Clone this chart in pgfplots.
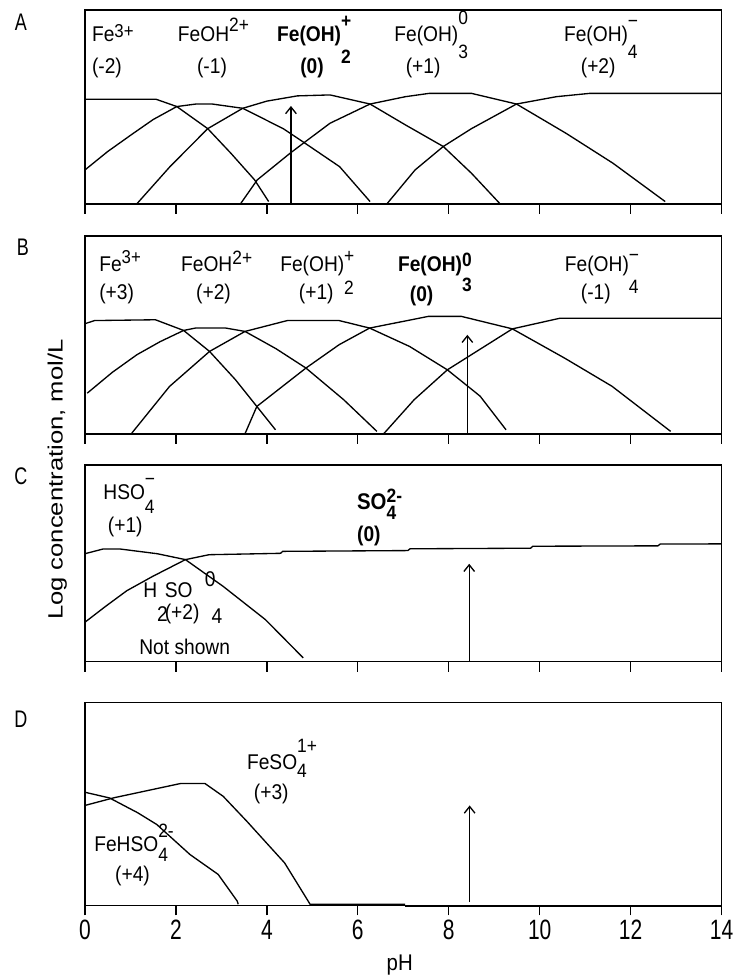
\documentclass[border=0pt]{standalone}
\usepackage{fontspec}
\setmainfont[FakeStretch=0.9]{Liberation Sans}
\newfontfamily\tickfont[FakeStretch=0.75]{Liberation Sans}
\newfontfamily\yfont{Liberation Sans}
\usepackage{graphicx}
\usepackage{pgfplots}
\pgfplotsset{compat=1.18}
\usetikzlibrary{arrows.meta}

\newcommand{\lab}{\fontsize{16}{18}\selectfont}
\newcommand{\sm}{\fontsize{14.5}{16}\selectfont}
% raise, sup, lower, sub
\newcommand{\SupSub}[4]{\rlap{\raisebox{#1}{\sm #2}}\raisebox{-#3}{\sm #4}}

\pgfplotsset{
  panel/.style={scale only axis, width=477.75pt, xmin=0, xmax=14, ymin=0, ymax=100,
    xtick={0,2,4,6,8,10,12,14}, ytick=\empty, xticklabels={},
    tick align=outside, xtick pos=bottom, major tick length=7.5pt,
    axis line style={line width=1.2pt}, xtick style={line width=1pt, black},
    clip=false, anchor=north west},
  cv/.style={black, line width=1pt, mark=none},
  ar/.style={black, line width=1pt, mark=none, -{Straight Barb[length=5pt,width=8pt]}},
}
\tikzset{lb/.style={anchor=base west, inner sep=0pt, font=\lab}}

\begin{document}
\begin{tikzpicture}
\path (0,0) rectangle (554.25pt,-735pt);

% ---------------- A ----------------
\begin{axis}[panel, height=145.5pt, at={(63.75pt,-7.5pt)}]
\addplot[cv] coordinates {(0,54) (1.56,54) (2.02,50.2) (2.7,38.8) (3.21,26.1) (3.73,12.4) (4.04,1.2)};
\addplot[cv] coordinates {(0,17.5) (0.5,27) (1.04,36) (1.5,43.5) (2.02,50.2) (2.44,51.5) (2.8,51.5) (3.47,49.3) (4.36,38.8) (4.82,31.6) (5.6,19.2) (6.27,1.2)};
\addplot[cv] coordinates {(1.14,0) (1.87,19.2) (2.7,38.8) (3.47,49.3) (4.0,53) (4.67,55.7) (5.39,56.2) (6.27,51.5) (7.05,40.7) (7.88,29.6) (8.5,15.8) (9.13,0)};
\addplot[cv] coordinates {(3.42,0) (3.79,12.4) (4.51,26.1) (4.82,31.6) (5.39,41.6) (6.27,51.5) (7.05,55.3) (7.57,57) (8.5,57) (9.49,51.5) (10.58,36.4) (11.61,21) (12.76,1.2)};
\addplot[cv] coordinates {(6.64,0) (7.26,17.5) (7.88,29.6) (8.5,38.8) (9.49,51.5) (10.37,55.3) (11.1,57) (14,57)};
\addplot[ar] coordinates {(4.53,0) (4.53,50.5)};
\node[lb] at (axis cs:0.15,83.5) {Fe\raisebox{3pt}{\fontsize{14}{14}\selectfont 3+}};
\node[lb] at (axis cs:0.15,67.5) {(-2)};
\node[lb] at (axis cs:2.04,83.5) {FeOH\raisebox{7.5pt}{\sm 2+}};
\node[lb] at (axis cs:2.46,67.5) {(-1)};
\node[lb] at (axis cs:4.22,83.5) {\bfseries Fe(OH)\SupSub{11pt}{+}{16pt}{2}};
\node[lb] at (axis cs:4.73,67.5) {\bfseries (0)};
\node[lb] at (axis cs:6.8,83.5) {Fe(OH)\SupSub{13pt}{0}{12.75pt}{3}};
\node[lb] at (axis cs:7.05,67.5) {(+1)};
\node[lb] at (axis cs:10.53,83.5) {Fe(OH)\SupSub{10.5pt}{\textminus}{12.75pt}{4}};
\node[lb] at (axis cs:10.9,67.5) {(+2)};
\end{axis}

% ---------------- B ----------------
\begin{axis}[panel, height=148.5pt, at={(63.75pt,-177pt)}]
\addplot[cv] coordinates {(0,55.6) (0.21,57.2) (1.55,57.6) (2.17,52.2) (2.74,41.6) (3.31,27.3) (3.78,13.8) (4.19,2)};
\addplot[cv] coordinates {(0.05,20.5) (0.6,31) (1.14,39.9) (1.65,46.5) (2.17,52.2) (2.43,53.4) (3.1,53.4) (3.52,51.7) (4.2,43) (4.86,33.2) (5.69,17.2) (6.42,1.2)};
\addplot[cv] coordinates {(1.03,0.3) (1.86,23.9) (2.74,41.6) (3.52,51.7) (4.45,57.2) (5.59,57.2) (6.26,53.4) (7.14,44.1) (7.97,32.3) (8.69,19) (9.26,2)};
\addplot[cv] coordinates {(3.52,0) (3.78,13.8) (4.86,33.2) (5.59,45) (6.26,53.4) (7.55,59.3) (8.28,59.3) (9.4,53) (10.55,38.2) (11.59,24) (12.88,1.2)};
\addplot[cv] coordinates {(6.57,0) (7.24,17.2) (7.97,32.3) (9.4,53) (10.45,58.4) (14,58.4)};
\addplot[ar] coordinates {(8.41,0) (8.41,50)};
\node[lb] at (axis cs:0.31,81.8) {Fe\raisebox{6pt}{\fontsize{14}{14}\selectfont 3+}};
\node[lb] at (axis cs:0.31,67.7) {(+3)};
\node[lb] at (axis cs:2.11,81.8) {FeOH\raisebox{5.5pt}{\sm 2+}};
\node[lb] at (axis cs:2.44,67.7) {(+2)};
\node[lb] at (axis cs:4.29,81.8) {Fe(OH)\SupSub{7pt}{+}{17pt}{2}};
\node[lb] at (axis cs:4.7,67.7) {(+1)};
\node[lb] at (axis cs:6.88,81.8) {\bfseries Fe(OH)\SupSub{4pt}{0}{15pt}{3}};
\node[lb] at (axis cs:7.14,66.7) {\bfseries (0)};
\node[lb] at (axis cs:10.55,81.8) {Fe(OH)\SupSub{7.5pt}{\textminus}{16pt}{4}};
\node[lb] at (axis cs:10.9,67.7) {(-1)};
\end{axis}

% ---------------- C ----------------
\begin{axis}[panel, height=147.75pt, at={(63.75pt,-348.75pt)}]
\addplot[cv] coordinates {(0,54.8) (0.4,57.2) (0.77,57.2) (1.59,54.8) (2.21,51.8) (3.04,38.2) (3.97,21.3) (4.8,1.9)};
\addplot[cv] coordinates {(0,20) (0.45,28) (0.92,36) (1.49,43.3) (2.21,51.8) (2.73,54.3) (4.3,55) (4.35,56) (7.1,56.4) (7.15,57.3) (9.8,57.6) (9.85,58.6) (12.6,58.8) (12.65,59.7) (14,59.8)};
\addplot[ar] coordinates {(8.45,0) (8.45,49.7)};
\node[lb] at (axis cs:0.4,82.2) {HSO\SupSub{10.5pt}{\textminus}{10pt}{4}};
\node[lb] at (axis cs:0.5,65.5) {(+1)};
\node[lb] at (axis cs:5.98,77.5) {\fontsize{17}{18}\selectfont\bfseries SO\SupSub{5pt}{\bfseries 2-}{8pt}{\bfseries 4}};
\node[lb] at (axis cs:5.98,61) {\bfseries (0)};
\node[lb] at (axis cs:1.28,32.5) {H};
\node[lb] at (axis cs:1.75,32.5) {SO};
\node[lb] at (axis cs:2.63,38) {0};
\node[lb] at (axis cs:1.58,20.5) {2};
\node[lb] at (axis cs:1.75,21.5) {(+2)};
\node[lb] at (axis cs:2.78,19.5) {4};
\node[lb] at (axis cs:1.19,3.6) {Not shown};
\end{axis}

% ---------------- D ----------------
\begin{axis}[panel, height=152.25pt, at={(63.75pt,-527.25pt)},
  xticklabels={0,2,4,6,8,10,12,14},
  xticklabel style={font=\tickfont\fontsize{21}{21}\selectfont},
  /pgf/number format/assume math mode=true]
\addplot[cv] coordinates {(0,49.3) (0.64,53.1) (2.1,60.1) (2.64,60.1) (3.04,53.8) (3.56,41.5) (4.39,21) (4.91,2.1) (4.95,0.6) (7.04,0.6)};
\addplot[cv] coordinates {(7.04,-0.6) (14,-0.6)};
\addplot[cv] coordinates {(0,55.8) (0.54,53) (1.16,45.7) (1.58,39.9) (2.31,25.1) (2.93,15.3) (3.35,2.1) (3.37,0.6)};
\addplot[ar] coordinates {(8.46,1.6) (8.46,49.3)};
\node[lb] at (axis cs:3.56,67) {FeSO\SupSub{12.5pt}{1+}{6pt}{4}};
\node[lb] at (axis cs:3.71,52.2) {(+3)};
\node[lb] at (axis cs:0.2,26.6) {FeHSO\SupSub{10.5pt}{2-}{7.5pt}{4}};
\node[lb] at (axis cs:0.66,11.8) {(+4)};
\end{axis}

% outer labels
\node[font=\tickfont\fontsize{18}{18}\selectfont] at (15.75pt,-16.5pt) {A};
\node[font=\tickfont\fontsize{18}{18}\selectfont] at (17.25pt,-185.25pt) {B};
\node[font=\tickfont\fontsize{18}{18}\selectfont] at (15.75pt,-357.75pt) {C};
\node[font=\tickfont\fontsize{18}{18}\selectfont] at (15.75pt,-540pt) {D};
\node[rotate=90, inner sep=0pt] at (43pt,-360pt) {\scalebox{1.24}[1]{\yfont\fontsize{15.5}{18}\selectfont Log concentration, mol/L}};
\node[font=\fontsize{17}{17}\selectfont] at (300pt,-724.5pt) {pH};
\end{tikzpicture}
\end{document}
